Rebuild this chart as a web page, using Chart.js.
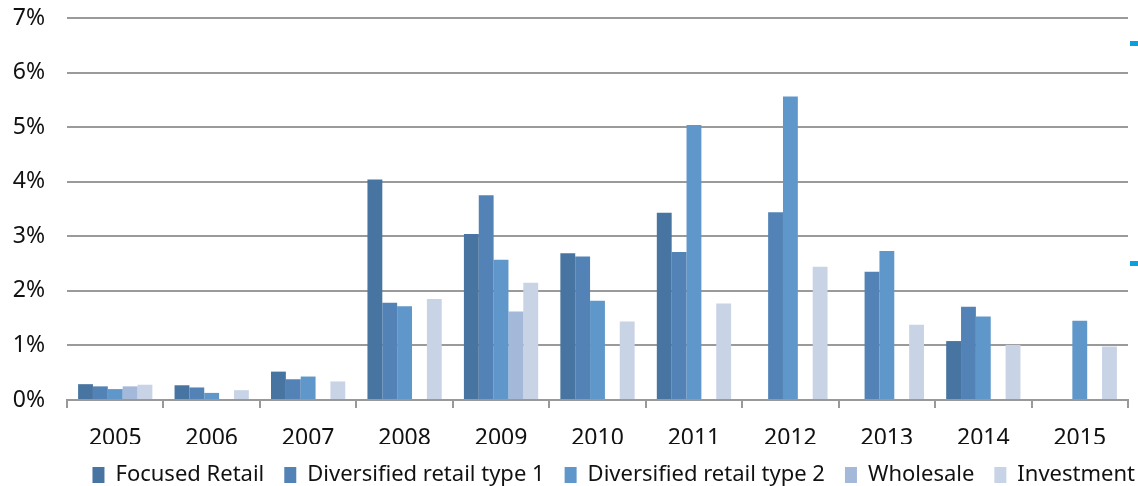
<!DOCTYPE html>
<html>
<head>
<meta charset="utf-8">
<script src="https://cdn.jsdelivr.net/npm/chart.js@4/dist/chart.umd.min.js"></script>
<style>
  html, body { margin: 0; padding: 0; background: #fff; }
  #wrap { width: 1138px; height: 486px; }
</style>
</head>
<body>
<div id="wrap"><canvas id="retailChart"></canvas></div>
<script>
const years = ['2005','2006','2007','2008','2009','2010','2011','2012','2013','2014','2015'];
const focusedRetail = [0.29, 0.27, 0.52, 4.04, 3.04, 2.69, 3.43, null, null, 1.08, null];
const diversifiedType1 = [0.25, 0.23, 0.38, 1.78, 3.75, 2.63, 2.71, 3.44, 2.35, 1.71, null];
const diversifiedType2 = [0.20, 0.13, 0.43, 1.72, 2.57, 1.82, 5.04, 5.56, 2.73, 1.53, 1.45];
const wholesale = [0.25, null, null, null, 1.62, null, null, null, null, null, null];
const investment = [0.28, 0.18, 0.34, 1.85, 2.15, 1.44, 1.77, 2.44, 1.38, 1.01, 0.98];
const yTicks = [0, 1, 2, 3, 4, 5, 6, 7];

const font = "'Noto Sans', 'Open Sans', sans-serif";
const plotBottom = 400;
const padBottom = -10;

function bars(label, data, color) {
    return {
        label: label,
        data: data,
        backgroundColor: color,
        borderWidth: 0,
        categoryPercentage: 0.77,
        barPercentage: 1.0
    };
}

// little blue marks at the right edge of the original
const edgeMarks = {
    id: 'edgeMarks',
    afterDraw(chart) {
        const ctx = chart.ctx;
        ctx.save();
        ctx.fillStyle = '#0aa0e0';
        ctx.fillRect(1130, 41, 8, 5);
        ctx.fillRect(1130, 261, 8, 5);
        ctx.restore();
    }
};

new Chart(document.getElementById('retailChart'), {
    type: 'bar',
    data: {
        labels: years,
        datasets: [
            bars('Focused Retail', focusedRetail, '#4774a0'),
            bars('Diversified retail type 1', diversifiedType1, '#5383b6'),
            bars('Diversified retail type 2', diversifiedType2, '#6097cb'),
            bars('Wholesale', wholesale, '#a4b8d9'),
            bars('Investment', investment, '#c8d3e6')
        ]
    },
    options: {
        responsive: true,
        maintainAspectRatio: false,
        animation: false,
        layout: { padding: { top: 18, right: -17, left: 0, bottom: padBottom } },
        plugins: {
            legend: {
                position: 'bottom',
                align: 'end',
                labels: {
                    font: { family: font, size: 22 },
                    color: '#111',
                    boxWidth: 12,
                    boxHeight: 16,
                    padding: 20
                }
            },
            tooltip: { enabled: false }
        },
        scales: {
            x: {
                grid: {
                    drawOnChartArea: false,
                    drawTicks: true,
                    tickLength: 8,
                    color: '#999',
                    lineWidth: 2
                },
                border: { color: '#999', width: 2 },
                ticks: {
                    font: { family: font, size: 23 },
                    color: '#111',
                    padding: 17
                },
                afterFit(scale) {
                    const legendH = scale.chart.legend ? scale.chart.legend.height : 0;
                    scale.height = scale.chart.height - padBottom - legendH - plotBottom;
                }
            },
            y: {
                min: 0,
                max: 7,
                afterBuildTicks(scale) {
                    scale.ticks = yTicks.map(v => ({ value: v }));
                },
                grid: {
                    color: '#9a9a9a',
                    lineWidth: 2,
                    drawTicks: false
                },
                border: { display: false },
                ticks: {
                    font: { family: font, size: 23 },
                    color: '#111',
                    padding: 22,
                    callback: v => v + '%'
                },
                afterFit(scale) {
                    scale.width = 67;
                    scale.paddingTop = 0;
                    scale.paddingBottom = 0;
                }
            },
            // empty right-hand strip, keeps the plot off the right edge
            yRight: {
                position: 'right',
                grid: { display: false },
                ticks: { display: false },
                border: { display: false },
                afterFit(scale) {
                    scale.width = 27;
                    scale.paddingTop = 0;
                    scale.paddingBottom = 0;
                }
            }
        }
    },
    plugins: [edgeMarks]
});
</script>
</body>
</html>
